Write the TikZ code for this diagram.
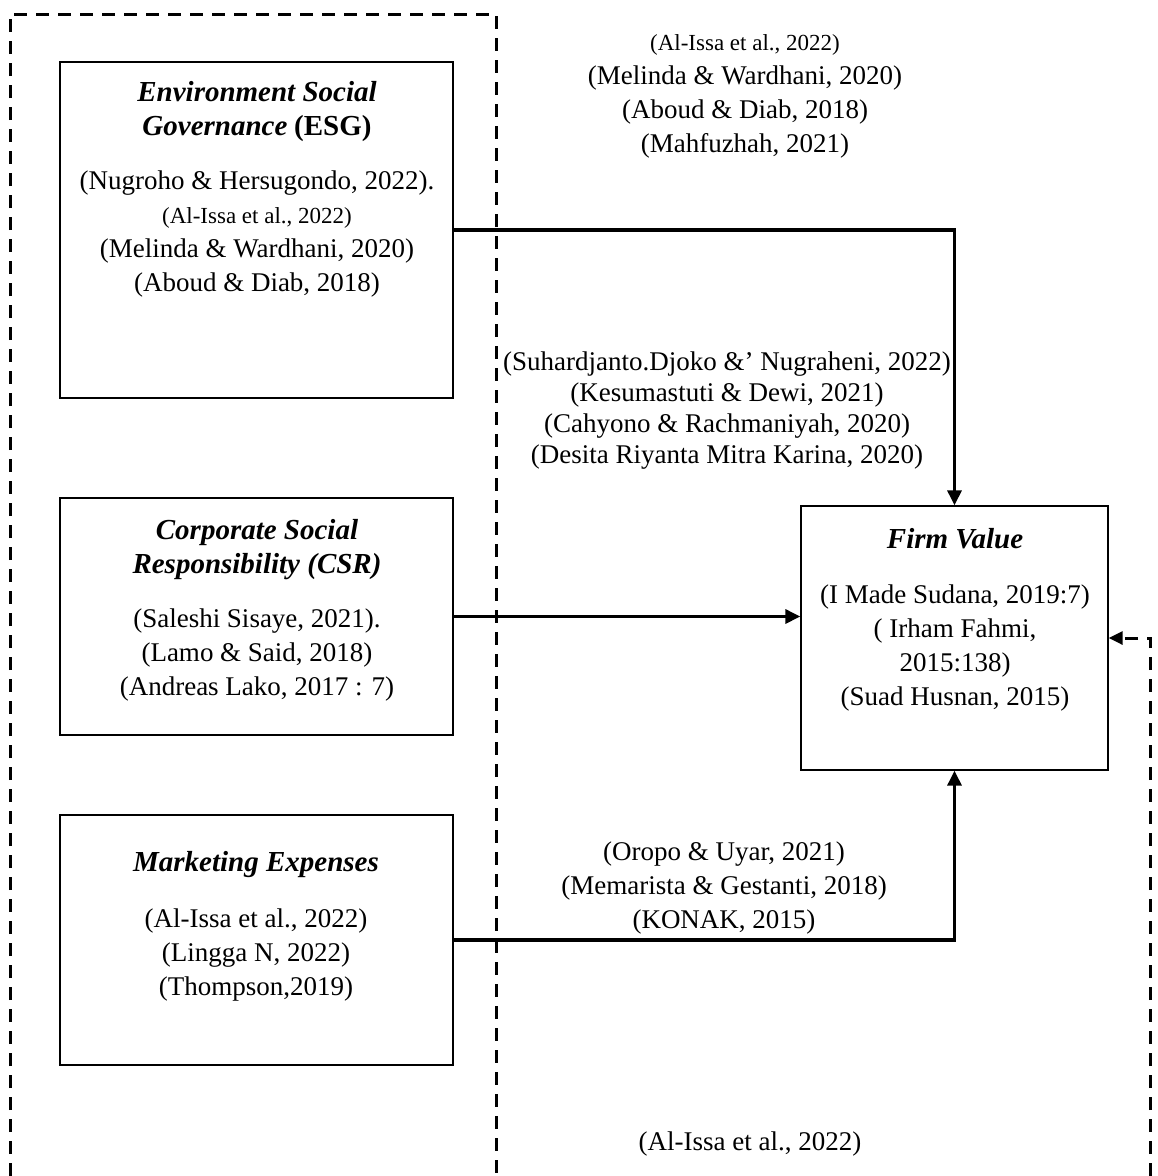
\documentclass[tikz,border=0pt]{standalone}
\usepackage{fontspec}
\setmainfont{Liberation Serif}
\usetikzlibrary{arrows.meta,positioning}
\newcommand{\hd}[1]{{\fontsize{29}{35}\selectfont\bfseries\itshape #1}}
\newcommand{\sm}[1]{{\fontsize{23}{34}\selectfont #1}}
\tikzset{
  varbox/.style={draw,line width=1.3pt,minimum width=393pt,inner sep=0pt},
  cite/.style={align=center,anchor=base,inner sep=0pt,font=\fontsize{27}{34}\selectfont},
  link/.style={line width=3.2pt,-{Triangle[length=15pt,width=14pt]}},
  grouped/.style={line width=3pt,dash pattern=on 13pt off 9pt},
}

\begin{document}
\begin{tikzpicture}[x=1pt,y=-1pt]
    \useasboundingbox (0,0) rectangle (1158,1176);
    % dashed frame round the independent variables
    \draw[grouped] (10,1176) -- (10,14) -- (496,14) -- (496,1176);
    % boxes
    \node[varbox,minimum height=336pt] (esg) at (256.5,230) {};
    \node[varbox,minimum height=237pt] (csr) at (256.5,616.5) {};
    \node[varbox,minimum height=250pt] (mkt) at (256.5,940) {};
    \node[varbox,minimum width=307pt,minimum height=264pt] (fv) at (954.5,638) {};
    % box texts (anchored on their last line)
    \node[cite] (esgtxt) at (257,291) {\hd{Environment Social}\\
      \hd{Governance} {\fontsize{29}{35}\selectfont\bfseries(ESG)}\\[20pt]
      (Nugroho \& Hersugondo, 2022).\\ \sm{(Al-Issa et al., 2022)}\\
      (Melinda \& Wardhani, 2020)\\ (Aboud \& Diab, 2018)};
    \node[cite] (csrtxt) at (257,695) {\hd{Corporate Social}\\ \hd{Responsibility (CSR)}\\[20pt]
      (Saleshi Sisaye, 2021).\\ (Lamo \& Said, 2018)\\ (Andreas Lako, 2017 : 7)};
    \node[cite] (mkttxt) at (256,995) {\hd{Marketing Expenses}\\[22pt]
      (Al-Issa et al., 2022)\\ (Lingga N, 2022)\\ (Thompson,2019)};
    \node[cite] (fvtxt) at (955,705) {\hd{Firm Value}\\[21pt]
      (I Made Sudana, 2019:7)\\ ( Irham Fahmi,\\ 2015:138)\\ (Suad Husnan, 2015)};
    % connectors
    \draw[link] (esg.east) -| (fv.north);
    \draw[link] (csr.east) -- (fv.west |- csr.east);
    \draw[link] (mkt.east) -| (fv.south);
    \coordinate (fvfoot) at (1150,1176);
    \draw[grouped,-{Triangle[length=14pt,width=13pt]}] (fvfoot) |- (fv.east);
    % references on the links
    \node[cite] (reftop) at (745,152) {\sm{(Al-Issa et al., 2022)}\\
      (Melinda \& Wardhani, 2020)\\ (Aboud \& Diab, 2018)\\ (Mahfuzhah, 2021)};
    \node[cite,font=\fontsize{27}{31}\selectfont] (refmid) at (727,463)
      {(Suhardjanto.Djoko \&' Nugraheni, 2022)\\ (Kesumastuti \& Dewi, 2021)\\
      (Cahyono \& Rachmaniyah, 2020)\\ (Desita Riyanta Mitra Karina, 2020)};
    \node[cite] (reflow) at (724,928) {(Oropo \& Uyar, 2021)\\
      (Memarista \& Gestanti, 2018)\\ (KONAK, 2015)};
    \node[cite] (refbot) at (750,1150) {(Al-Issa et al., 2022)};
\end{tikzpicture}
\end{document}
